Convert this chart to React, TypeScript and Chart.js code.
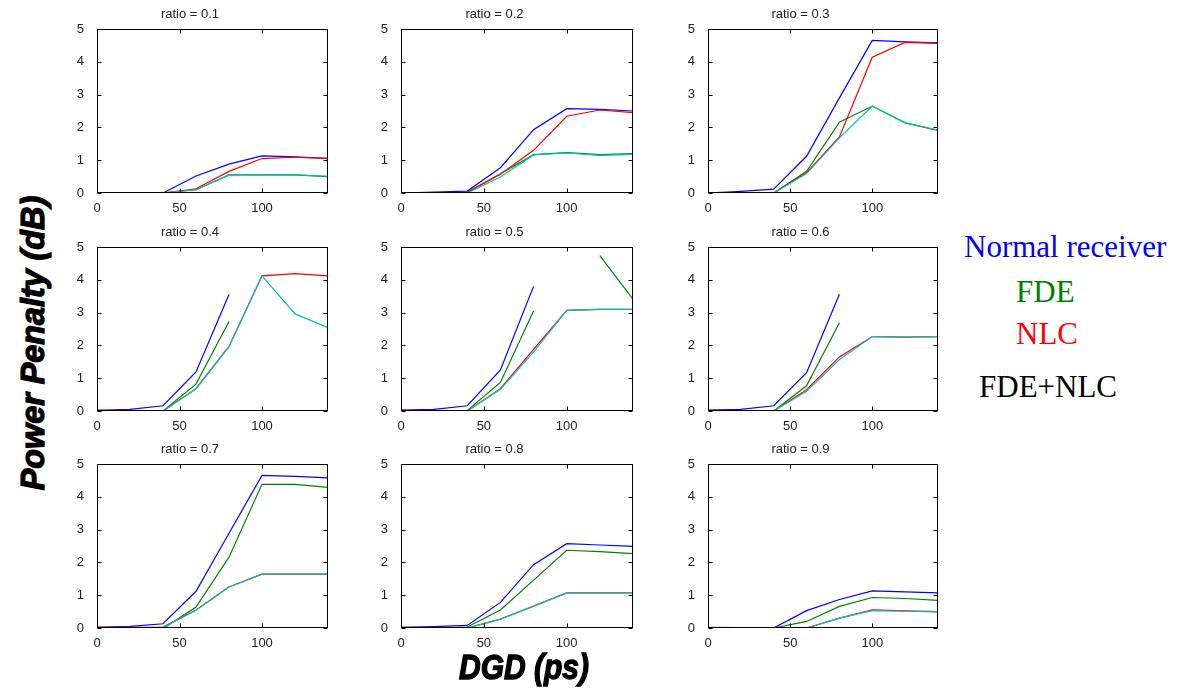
import React, { useEffect, useRef } from "react";
import { Chart, registerables } from "chart.js";

Chart.register(...registerables);

const DGD = [0, 20, 40, 60, 80, 100, 120, 140];
const X_TICKS = [0, 50, 100];
const Y_TICKS = [0, 1, 2, 3, 4, 5];
const RATIOS = ["0.1", "0.2", "0.3", "0.4", "0.5", "0.6", "0.7", "0.8", "0.9"];

const NORMAL: (number | null)[][] = [
  [0, 0, 0, 0.52, 0.88, 1.13, 1.1, 1.06],
  [0, 0.03, 0.06, 0.77, 1.93, 2.57, 2.55, 2.5],
  [0, 0.05, 0.12, 1.12, 2.9, 4.65, 4.61, 4.58],
  [0.02, 0.05, 0.16, 1.19, 3.55, null, null, null],
  [0.03, 0.05, 0.16, 1.25, 3.8, null, null, null],
  [0.03, 0.05, 0.16, 1.17, 3.56, null, null, null],
  [0.02, 0.05, 0.13, 1.12, 2.89, 4.65, 4.62, 4.58],
  [0.02, 0.04, 0.08, 0.78, 1.93, 2.57, 2.53, 2.49],
  [0, 0, 0, 0.53, 0.87, 1.13, 1.1, 1.07],
];
const FDE: (number | null)[][] = [
  [0, 0, 0, 0.1, 0.55, 0.55, 0.55, 0.5],
  [0, 0, 0.02, 0.59, 1.17, 1.23, 1.17, 1.2],
  [0, 0, 0, 0.66, 2.16, 2.65, 2.14, 1.91],
  [0, 0, 0, 0.82, 2.73, null, null, null],
  [0, 0, 0.02, 0.87, 3.05, null, 4.74, 3.41],
  [0, 0, 0, 0.77, 2.69, null, null, null],
  [0, 0, -0.02, 0.64, 2.16, 4.38, 4.38, 4.29],
  [0, 0, 0.03, 0.55, 1.46, 2.37, 2.33, 2.27],
  [0, 0, 0, 0.2, 0.66, 0.93, 0.9, 0.84],
];
const NLC: (number | null)[][] = [
  [0, 0, 0, 0.13, 0.66, 1.05, 1.09, 1.05],
  [0, 0, 0.02, 0.57, 1.3, 2.34, 2.53, 2.45],
  [0, 0, 0, 0.62, 1.71, 4.14, 4.59, 4.56],
  [0.02, 0.01, 0, 0.68, 1.97, 4.12, 4.19, 4.12],
  [0.02, 0.01, 0, 0.68, 1.88, 3.07, 3.1, 3.1],
  [0.02, 0.01, 0, 0.65, 1.65, 2.27, 2.25, 2.27],
  [0.03, 0.02, 0.03, 0.55, 1.25, 1.64, 1.64, 1.64],
  [0.02, 0.01, 0, 0.27, 0.67, 1.07, 1.07, 1.07],
  [0.02, 0.01, 0, 0, 0.3, 0.55, 0.52, 0.5],
];
const FDE_NLC: (number | null)[][] = [
  [0, 0, 0, 0.1, 0.55, 0.55, 0.55, 0.51],
  [0, 0, 0, 0.49, 1.16, 1.22, 1.15, 1.18],
  [0, 0, 0, 0.59, 1.68, 2.65, 2.14, 1.92],
  [-0.02, -0.02, 0, 0.68, 1.96, 4.12, 2.96, 2.54],
  [-0.02, -0.02, 0, 0.66, 1.8, 3.07, 3.1, 3.1],
  [-0.02, -0.02, 0, 0.6, 1.57, 2.27, 2.25, 2.27],
  [0, 0, 0.02, 0.54, 1.25, 1.64, 1.64, 1.64],
  [0, 0, 0, 0.27, 0.66, 1.07, 1.07, 1.07],
  [0, 0, 0, 0, 0.3, 0.53, 0.51, 0.49],
];

const SERIES = [
  { name: "Normal receiver", data: NORMAL, color: "#0000FF", order: 4 },
  { name: "FDE", data: FDE, color: "#008000", order: 3 },
  { name: "NLC", data: NLC, color: "#FF0000", order: 2 },
  { name: "FDE+NLC", data: FDE_NLC, color: "#00BFBF", order: 1 },
];

const COL_LEFT = [97, 401, 708];
const COL_W = [231, 232, 230];
const ROW_TOP = [29, 247, 464];
const PLOT_H = 164;
const AX_W = 45;
const TITLE_H = 30;
const XAX_H = 26;
const PAD_R = 6;

const framePlugin = {
  id: "frameTicks",
  afterDatasetsDraw(chart: any) {
    const { ctx, chartArea, scales } = chart;
    const { left, right, top, bottom } = chartArea;
    ctx.save();
    ctx.strokeStyle = "#000";
    ctx.lineWidth = 1;
    const L = Math.round(left) + 0.5;
    const R = Math.round(right) - 0.5;
    const T = Math.round(top) + 0.5;
    const B = Math.round(bottom) - 0.5;
    ctx.strokeRect(L, T, R - L, B - T);
    const tl = 4;
    ctx.beginPath();
    X_TICKS.forEach((v) => {
      const px = Math.round(scales.x.getPixelForValue(v)) + 0.5;
      ctx.moveTo(px, B);
      ctx.lineTo(px, B - tl);
      ctx.moveTo(px, T);
      ctx.lineTo(px, T + tl);
    });
    Y_TICKS.forEach((v) => {
      const py = Math.round(scales.y.getPixelForValue(v)) + 0.5;
      ctx.moveTo(L, py);
      ctx.lineTo(L + tl, py);
      ctx.moveTo(R, py);
      ctx.lineTo(R - tl, py);
    });
    ctx.stroke();
    ctx.restore();
  },
};

function Panel({ idx }: { idx: number }) {
  const ref = useRef<HTMLCanvasElement>(null);
  const col = idx % 3;
  const row = Math.floor(idx / 3);
  const w = COL_W[col] + AX_W + PAD_R;
  const h = PLOT_H + TITLE_H + XAX_H;
  useEffect(() => {
    const chart = new Chart(ref.current as HTMLCanvasElement, {
      type: "line",
      data: {
        datasets: SERIES.map((s) => ({
          label: s.name,
          data: DGD.map((x, i) => ({ x, y: s.data[idx][i] })),
          borderColor: s.color,
          backgroundColor: s.color,
          borderWidth: 1.2,
          pointRadius: 0,
          tension: 0,
          spanGaps: false,
          fill: false,
          order: s.order,
        })),
      },
      options: {
        animation: false,
        responsive: false,
        devicePixelRatio: 1,
        layout: { padding: { left: 0, right: PAD_R, top: 0, bottom: 0 } },
        plugins: {
          legend: { display: false },
          tooltip: { enabled: false },
          title: {
            display: true,
            text: "ratio = " + RATIOS[idx],
            color: "#222",
            font: { family: "'Liberation Sans', Arial, sans-serif", size: 13, weight: "normal" as any, lineHeight: 1.2 },
            padding: { top: 8, bottom: TITLE_H - 8 - 15.6 },
          },
        },
        scales: {
          x: {
            type: "linear",
            min: 0,
            max: 140,
            grid: { display: false },
            border: { display: false },
            afterBuildTicks: (s: any) => {
              s.ticks = X_TICKS.map((v) => ({ value: v }));
            },
            afterFit: (s: any) => {
              s.height = XAX_H;
            },
            ticks: {
              color: "#222",
              padding: 0,
              maxRotation: 0,
              font: { family: "'Liberation Sans', Arial, sans-serif", size: 13 },
            },
          },
          y: {
            type: "linear",
            min: 0,
            max: 5,
            grid: { display: false },
            border: { display: false },
            afterBuildTicks: (s: any) => {
              s.ticks = Y_TICKS.map((v) => ({ value: v }));
            },
            afterFit: (s: any) => {
              s.width = AX_W;
            },
            ticks: {
              color: "#222",
              padding: 5,
              font: { family: "'Liberation Sans', Arial, sans-serif", size: 13 },
            },
          },
        },
      },
      plugins: [framePlugin],
    } as any);
    return () => chart.destroy();
  }, [idx]);
  return (
    <canvas
      ref={ref}
      width={w}
      height={h}
      style={{
        position: "absolute",
        left: COL_LEFT[col] - AX_W,
        top: ROW_TOP[row] - TITLE_H,
        width: w,
        height: h,
      }}
    />
  );
}

const legendFont = "'Liberation Serif', 'Times New Roman', serif";

export default function App() {
  return (
    <div
      style={{
        position: "absolute",
        left: 0,
        top: 0,
        width: 1179,
        height: 696,
        background: "#fff",
        overflow: "hidden",
      }}
    >
      {RATIOS.map((_, i) => (
        <Panel key={i} idx={i} />
      ))}
      <div
        style={{
          position: "absolute",
          left: 32,
          top: 343,
          transform: "translate(-50%, -50%) rotate(-90deg) scaleX(0.95)",
          fontFamily: "'Liberation Sans', Arial, sans-serif",
          fontWeight: "bold",
          fontStyle: "italic",
          fontSize: 34,
          lineHeight: "34px",
          whiteSpace: "nowrap",
          color: "#000",
          WebkitTextStroke: "1.2px #000",
        }}
      >
        Power Penalty (dB)
      </div>
      <div
        style={{
          position: "absolute",
          left: 524,
          top: 667,
          transform: "translate(-50%, -50%) scaleY(1.15)",
          fontFamily: "'Liberation Sans', Arial, sans-serif",
          fontWeight: "bold",
          fontStyle: "italic",
          fontSize: 30,
          lineHeight: "30px",
          whiteSpace: "nowrap",
          color: "#000",
          WebkitTextStroke: "1.2px #000",
        }}
      >
        DGD (ps)
      </div>
      {[
        { t: "Normal receiver", c: "#0000FF", l: 964, top: 231 },
        { t: "FDE", c: "#008000", l: 1016, top: 276 },
        { t: "NLC", c: "#FF0000", l: 1016, top: 318 },
        { t: "FDE+NLC", c: "#000000", l: 979, top: 371 },
      ].map((e) => (
        <div
          key={e.t}
          style={{
            position: "absolute",
            left: e.l,
            top: e.top,
            fontFamily: legendFont,
            fontSize: 31,
            lineHeight: "31px",
            whiteSpace: "nowrap",
            color: e.c,
          }}
        >
          {e.t}
        </div>
      ))}
    </div>
  );
}
